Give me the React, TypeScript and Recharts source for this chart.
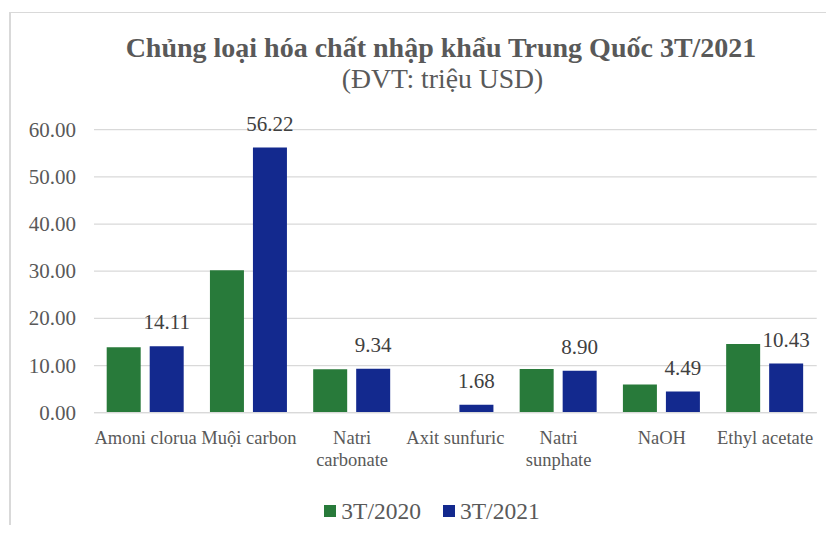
import { BarChart, Bar, XAxis, YAxis, CartesianGrid, LabelList, Legend } from "recharts";

const categories = [
  "Amoni clorua",
  "Muội carbon",
  "Natri carbonate",
  "Axit sunfuric",
  "Natri sunphate",
  "NaOH",
  "Ethyl acetate",
];
const values2020 = [13.9, 30.2, 9.2, 0.05, 9.25, 6.0, 14.55];
const values2021 = [14.11, 56.22, 9.34, 1.68, 8.9, 4.49, 10.43];
const seriesNames = ["3T/2020", "3T/2021"];
const yTicks = [0, 10, 20, 30, 40, 50, 60];
// labels that Excel broke onto two lines
const wrappedLabels = ["Natri carbonate", "Natri sunphate"];

const colors = ["#287a3a", "#13298e"];
const font = "'Times New Roman', 'Liberation Serif', serif";
const gray = "#595959";

const data = categories.map((name, i) => ({ name, y2020: values2020[i], y2021: values2021[i] }));

function CategoryTick({ x, y, payload }: any) {
  const label: string = payload.value;
  const lines = wrappedLabels.includes(label) ? label.split(" ") : [label];
  return (
    <text x={x} y={y} textAnchor="middle" fill={gray} fontSize={18.5} style={{ fontFamily: font }}>
      {lines.map((l, i) => (
        <tspan key={i} x={x} dy={i === 0 ? 31.3 : 21.5}>
          {l}
        </tspan>
      ))}
    </text>
  );
}

function ValueTick({ x, y, payload }: any) {
  return (
    <text x={x} y={y} dy={7} textAnchor="end" fill={gray} fontSize={21} style={{ fontFamily: font }}>
      {Number(payload.value).toFixed(2)}
    </text>
  );
}

function BarValue({ x, y, width, value }: any) {
  return (
    <text x={x + width / 2} y={y - 17} textAnchor="middle" fill="#404040" fontSize={21} style={{ fontFamily: font }}>
      {Number(value).toFixed(2)}
    </text>
  );
}

function LegendBox() {
  return (
    <div
      style={{
        display: "flex",
        justifyContent: "center",
        alignItems: "center",
        height: 30,
        paddingLeft: 30,
        fontFamily: font,
        fontSize: 23.5,
        color: gray,
      }}
    >
      {seriesNames.map((n, i) => (
        <span key={n} style={{ display: "flex", alignItems: "center", marginRight: i === 0 ? 22 : 0 }}>
          <span style={{ width: 12, height: 12, background: colors[i], marginRight: 5, display: "inline-block" }} />
          {n}
        </span>
      ))}
    </div>
  );
}

export default function App() {
  return (
    <div
      style={{
        position: "relative",
        width: 834,
        height: 533,
        margin: -8,
        overflow: "hidden",
        background: "#fff",
        fontFamily: font,
      }}
    >
      <div
        style={{
          position: "absolute",
          left: 9,
          top: 12,
          width: 900,
          height: 600,
          borderTop: "1px solid #d9d9d9",
          borderLeft: "2px solid #d9d9d9",
        }}
      />
      <svg width={834} height={110} style={{ position: "absolute", left: 0, top: 0 }}>
        <text x={441} y={56.5} textAnchor="middle" fontSize={28} fontWeight="bold" fill={gray} style={{ fontFamily: font }}>
          Chủng loại hóa chất nhập khẩu Trung Quốc 3T/2021
        </text>
        <text x={442.5} y={88} textAnchor="middle" fontSize={27.7} fill={gray} style={{ fontFamily: font }}>
          (ĐVT: triệu USD)
        </text>
      </svg>
      <div style={{ position: "absolute", left: 0, top: 0 }}>
        <BarChart
          width={834}
          height={533}
          data={data}
          margin={{ top: 129.7, right: 17.3, left: 0, bottom: 40.3 }}
          barCategoryGap="12.3%"
          barGap={9}
        >
          <CartesianGrid vertical={false} stroke="#d9d9d9" strokeWidth={1.3} />
          <XAxis
            dataKey="name"
            height={50}
            interval={0}
            axisLine={{ stroke: "#d9d9d9", strokeWidth: 1.3 }}
            tickLine={false}
            tickSize={0}
            tickMargin={0}
            tick={<CategoryTick />}
          />
          <YAxis
            width={94}
            domain={[0, 60]}
            ticks={yTicks}
            axisLine={false}
            tickLine={false}
            tickSize={0}
            tickMargin={18}
            tick={<ValueTick />}
          />
          <Legend verticalAlign="bottom" content={<LegendBox />} wrapperStyle={{ top: 496, left: 0, width: 834 }} />
          <Bar dataKey="y2020" name={seriesNames[0]} fill={colors[0]} isAnimationActive={false} />
          <Bar dataKey="y2021" name={seriesNames[1]} fill={colors[1]} isAnimationActive={false}>
            <LabelList dataKey="y2021" content={<BarValue />} />
          </Bar>
        </BarChart>
      </div>
    </div>
  );
}
